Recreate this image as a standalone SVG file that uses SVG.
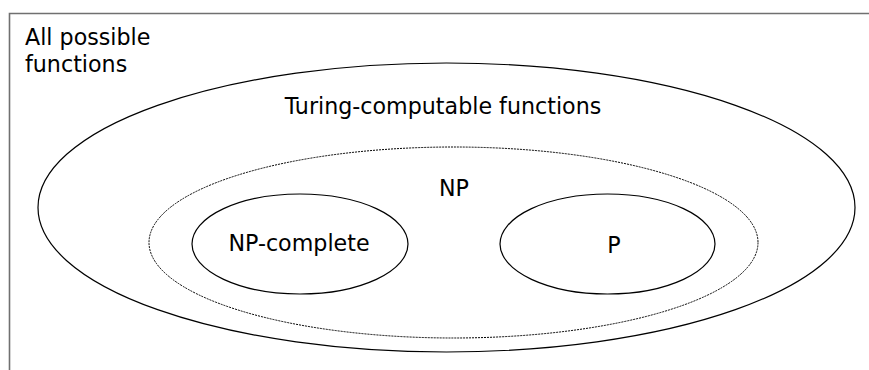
<svg xmlns="http://www.w3.org/2000/svg" width="869" height="370" viewBox="0 0 869 370">
<style>
text{font-family:"DejaVu Sans",Verdana,sans-serif;font-size:22.2px;fill:#000}
.set{fill:none;stroke:#000;stroke-width:1.2}
.dash{fill:none;stroke:#000;stroke-width:1;stroke-dasharray:2 1}
.frame{fill:none;stroke:#707070;stroke-width:1.6}
</style>
<rect width="869" height="370" fill="#fff"/>
<g id="all">
<path class="frame" d="M9.5 370 V13.5 H869"/>
<text x="25" y="45">All possible</text>
<text x="25" y="72">functions</text>
</g>
<g id="turing">
<ellipse class="set" cx="446.5" cy="207.5" rx="408.5" ry="144.5"/>
<text x="443" y="114" text-anchor="middle">Turing-computable functions</text>
</g>
<g id="np">
<ellipse class="dash" cx="453.5" cy="242.5" rx="304.5" ry="95.5"/>
<text x="454" y="196" text-anchor="middle">NP</text>
</g>
<g id="npc">
<ellipse class="set" cx="300" cy="244" rx="108" ry="50"/>
<text x="299" y="251" text-anchor="middle">NP-complete</text>
</g>
<g id="p">
<ellipse class="set" cx="607.5" cy="244" rx="107.5" ry="50"/>
<text x="614" y="253" text-anchor="middle">P</text>
</g>
<g id="connectors"/>
</svg>
